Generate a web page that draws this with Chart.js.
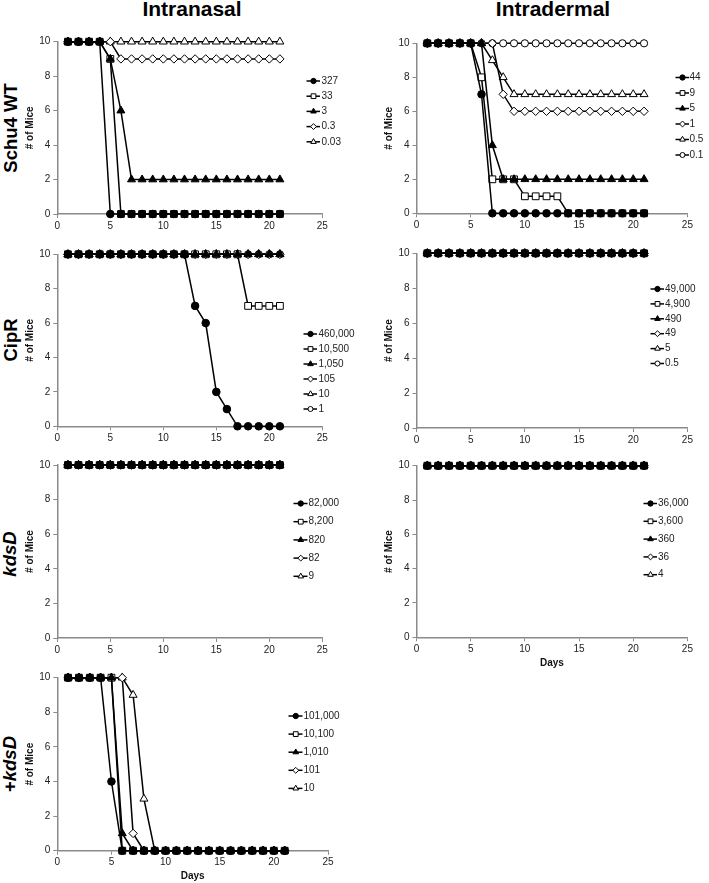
<!DOCTYPE html>
<html>
<head>
<meta charset="utf-8">
<script src="https://cdn.jsdelivr.net/npm/chart.js@4.4.1/dist/chart.umd.min.js"></script>
<style>
  body { margin: 0; width: 709px; height: 883px; background: #fff; position: relative; overflow: hidden;
         font-family: "Liberation Sans", Arial, sans-serif; color: #000; }
  canvas { position: absolute; }
  .colTitle { position: absolute; top: -1px; font-weight: bold; font-size: 21px; line-height: 20px;
              transform: translateX(-50%); white-space: nowrap; }
  .rowTitle { position: absolute; font-weight: bold; font-size: 18.5px; white-space: nowrap;
              transform: translate(-50%, -50%) rotate(-90deg); }
</style>
</head>
<body>
<div class="colTitle" style="left:192px">Intranasal</div>
<div class="colTitle" style="left:553px">Intradermal</div>
<div class="rowTitle" style="left:11px;top:128px">Schu4 WT</div>
<div class="rowTitle" style="left:11px;top:340px">CipR</div>
<div class="rowTitle" style="left:10px;top:554px"><i>kdsD</i></div>
<div class="rowTitle" style="left:10px;top:764px">+<i>kdsD</i></div>
<script>
// days post infection
const days = [1,2,3,4,5,6,7,8,9,10,11,12,13,14,15,16,17,18,19,20,21];
const allTen = [10,10,10,10,10,10,10,10,10,10,10,10,10,10,10,10,10,10,10,10,10];

// Schu4 WT, intranasal
const wtInDoses = ['327', '33', '3', '0.3', '0.03'];
const wtIn327 = [10,10,10,10,0,0,0,0,0,0,0,0,0,0,0,0,0,0,0,0,0];
const wtIn33  = [10,10,10,10,9,0,0,0,0,0,0,0,0,0,0,0,0,0,0,0,0];
const wtIn3   = [10,10,10,10,9,6,2,2,2,2,2,2,2,2,2,2,2,2,2,2,2];
const wtIn03  = [10,10,10,10,10,9,9,9,9,9,9,9,9,9,9,9,9,9,9,9,9];
const wtIn003 = allTen;

// Schu4 WT, intradermal
const wtIdDoses = ['44', '9', '5', '1', '0.5', '0.1'];
const wtId44 = [10,10,10,10,10,7,0,0,0,0,0,0,0,0,0,0,0,0,0,0,0];
const wtId9  = [10,10,10,10,10,8,2,2,2,1,1,1,1,0,0,0,0,0,0,0,0];
const wtId5  = [10,10,10,10,10,10,4,2,2,2,2,2,2,2,2,2,2,2,2,2,2];
const wtId1  = [10,10,10,10,10,10,10,7,6,6,6,6,6,6,6,6,6,6,6,6,6];
const wtId05 = [10,10,10,10,10,10,9,8,7,7,7,7,7,7,7,7,7,7,7,7,7];
const wtId01 = allTen;

// CipR
const cipInDoses = ['460,000', '10,500', '1,050', '105', '10', '1'];
const cipIn460000 = [10,10,10,10,10,10,10,10,10,10,10,10,7,6,2,1,0,0,0,0,0];
const cipIn10500  = [10,10,10,10,10,10,10,10,10,10,10,10,10,10,10,10,10,7,7,7,7];
const cipIdDoses = ['49,000', '4,900', '490', '49', '5', '0.5'];

// kdsD
const kdsInDoses = ['82,000', '8,200', '820', '82', '9'];
const kdsIdDoses = ['36,000', '3,600', '360', '36', '4'];

// +kdsD, intranasal
const compInDoses = ['101,000', '10,100', '1,010', '101', '10'];
const comp101000 = [10,10,10,10,4,0,0,0,0,0,0,0,0,0,0,0,0,0,0,0,0];
const comp10100  = [10,10,10,10,10,0,0,0,0,0,0,0,0,0,0,0,0,0,0,0,0];
const comp1010   = [10,10,10,10,10,1,0,0,0,0,0,0,0,0,0,0,0,0,0,0,0];
const comp101    = [10,10,10,10,10,10,1,0,0,0,0,0,0,0,0,0,0,0,0,0,0];
const comp10     = [10,10,10,10,10,10,9,3,0,0,0,0,0,0,0,0,0,0,0,0,0];

Chart.defaults.font.family = '"Liberation Sans", Arial, sans-serif';
Chart.defaults.color = '#222';

// marker per series position; z = draw order (lower is on top)
const markers = [
  { style: 'circle',   r: 3.8, fill: '#000', z: 1 },
  { style: 'rect',     r: 4.8, fill: '#fff', z: 2 },
  { style: 'triangle', r: 4.6, fill: '#000', z: 0 },
  { style: 'rectRot',  r: 4.2, fill: '#fff', z: 3 },
  { style: 'triangle', r: 4.6, fill: '#fff', z: 4 },
  { style: 'circle',   r: 3.6, fill: '#fff', z: 5 }
];
const axisGrey = '#8a8a8a';

// excel-like key: short line with the marker on it, then the dose
const keyPlugin = {
  id: 'seriesKey',
  afterDatasetsDraw(chart, args, o) {
    const ctx = chart.ctx;
    chart.data.datasets.forEach((ds, i) => {
      const y = o.y + i * o.step;
      ctx.save();
      ctx.strokeStyle = '#000';
      ctx.lineWidth = 1.5;
      ctx.beginPath();
      ctx.moveTo(o.x1 - 1.5, y);
      ctx.lineTo(o.x2 + 1, y);
      ctx.stroke();
      ctx.lineWidth = 1;
      ctx.fillStyle = ds.pointBackgroundColor;
      Chart.helpers.drawPoint(ctx, { pointStyle: ds.pointStyle, radius: ds.pointRadius * 0.7, rotation: 0, borderWidth: 1 },
        (o.x1 + o.x2) / 2, y);
      ctx.fillStyle = '#222';
      ctx.font = '10px "Liberation Sans", Arial, sans-serif';
      ctx.textBaseline = 'middle';
      ctx.fillText(ds.label, o.tx + 0.5, y);
      ctx.restore();
    });
  }
};

function panel(area, showDays, doses, series, key) {
  const cl = Math.floor(area.x0 - 37);
  const ct = Math.floor(area.y10 - 12);
  const cb = Math.ceil(area.y0 + (showDays ? 31 : 16));
  const cv = document.createElement('canvas');
  cv.width = area.right - cl;
  cv.height = cb - ct;
  cv.style.left = cl + 'px';
  cv.style.top = ct + 'px';
  document.body.appendChild(cv);

  const datasets = series.map((vals, i) => ({
    label: doses[i],
    data: days.map((d, j) => ({ x: d, y: vals[j] })),
    order: markers[i].z,
    borderColor: '#000',
    borderWidth: 1.5,
    pointStyle: markers[i].style,
    pointRadius: markers[i].r,
    pointBackgroundColor: markers[i].fill,
    pointBorderColor: '#000',
    pointBorderWidth: 1,
    tension: 0,
    fill: false,
    clip: false
  }));

  new Chart(cv, {
    type: 'line',
    data: { datasets },
    options: {
      responsive: false,
      animation: false,
      devicePixelRatio: 1,
      events: [],
      layout: { padding: { left: 0, top: area.y10 - ct, right: area.right - area.x25, bottom: 0 } },
      plugins: {
        legend: { display: false },
        tooltip: { enabled: false },
        seriesKey: { x1: key.x1 - cl, x2: key.x2 - cl, tx: key.tx - cl, y: key.y - ct, step: key.step }
      },
      scales: {
        x: {
          type: 'linear', min: 0, max: 25,
          ticks: { stepSize: 5, padding: 2, font: { size: 10 }, color: '#222' },
          grid: { drawOnChartArea: false, drawTicks: true, tickLength: 4, color: axisGrey, lineWidth: 1 },
          border: { display: true, color: axisGrey, width: 1.5 },
          title: { display: showDays, text: 'Days', font: { size: 10, weight: 'bold' }, color: '#111', padding: { top: 0, bottom: 0 } },
          afterFit: s => { s.height = cb - area.y0; }
        },
        y: {
          type: 'linear', min: 0, max: 10,
          ticks: { stepSize: 2, padding: 3, font: { size: 10 }, color: '#222' },
          grid: { drawOnChartArea: false, drawTicks: true, tickLength: 4, color: axisGrey, lineWidth: 1 },
          border: { display: true, color: axisGrey, width: 1.5 },
          title: { display: true, text: '# of Mice', font: { size: 10, weight: 'bold' }, color: '#111', padding: { top: 4, bottom: 0 } },
          afterFit: s => { s.width = area.x0 - cl; }
        }
      }
    },
    plugins: [keyPlugin]
  });
}

panel({ x0: 57.3, x25: 322.3, y10: 41.7, y0: 214, right: 356 }, false, wtInDoses,
  [wtIn327, wtIn33, wtIn3, wtIn03, wtIn003],
  { x1: 308, x2: 319, tx: 321, y: 81, step: 15.2 });

panel({ x0: 416.5, x25: 687.4, y10: 43.3, y0: 213.3, right: 709 }, false, wtIdDoses,
  [wtId44, wtId9, wtId5, wtId1, wtId05, wtId01],
  { x1: 677, x2: 688, tx: 689, y: 77.5, step: 15.5 });

panel({ x0: 57.3, x25: 322.3, y10: 254.3, y0: 426.3, right: 356 }, false, cipInDoses,
  [cipIn460000, cipIn10500, allTen, allTen, allTen, allTen],
  { x1: 305, x2: 316, tx: 318, y: 334, step: 15 });

panel({ x0: 416.5, x25: 687.4, y10: 253.3, y0: 428, right: 709 }, false, cipIdDoses,
  [allTen, allTen, allTen, allTen, allTen, allTen],
  { x1: 652, x2: 663, tx: 664.5, y: 289, step: 14.9 });

panel({ x0: 57.3, x25: 322.3, y10: 465, y0: 638, right: 356 }, false, kdsInDoses,
  [allTen, allTen, allTen, allTen, allTen],
  { x1: 295, x2: 306.5, tx: 308, y: 503.5, step: 18.2 });

panel({ x0: 416.5, x25: 687.4, y10: 465.7, y0: 637.3, right: 709 }, true, kdsIdDoses,
  [allTen, allTen, allTen, allTen, allTen],
  { x1: 645, x2: 656, tx: 657.5, y: 503.5, step: 17.8 });

panel({ x0: 57.3, x25: 328, y10: 677.7, y0: 850.7, right: 356 }, true, compInDoses,
  [comp101000, comp10100, comp1010, comp101, comp10],
  { x1: 290, x2: 301.5, tx: 303, y: 716, step: 18.1 });
</script>
</body>
</html>
